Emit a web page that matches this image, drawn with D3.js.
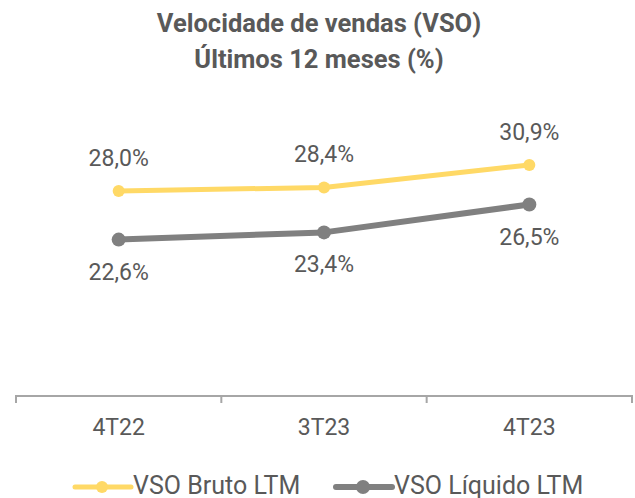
<!DOCTYPE html>
<html>
<head>
<meta charset="utf-8">
<script src="https://cdn.jsdelivr.net/npm/d3@7"></script>
<style>
  html, body { margin: 0; padding: 0; background: #ffffff; }
  svg { display: block; }
  text { font-family: Roboto, "Noto Sans", sans-serif; fill: #595959; }
</style>
</head>
<body>
<div id="chart"></div>
<script>
const categories = ["4T22", "3T23", "4T23"];
const seriesNames = ["VSO Bruto LTM", "VSO Líquido LTM"];
const bruto = [28.0, 28.4, 30.9];
const liquido = [22.6, 23.4, 26.5];
const brutoLabels = ["28,0%", "28,4%", "30,9%"];
const liquidoLabels = ["22,6%", "23,4%", "26,5%"];
const titleLines = ["Velocidade de vendas (VSO)", "Últimos 12 meses (%)"];

const W = 635, H = 498;
const colors = ["#FFD966", "#808080"];

const svg = d3.select("#chart").append("svg").attr("width", W).attr("height", H);

const x = d3.scaleBand().domain(categories).range([16, 632]).padding(0);
const y = d3.scaleLinear().domain([5, 35]).range([398, 128]);

// Title
svg.append("g").selectAll("text").data(titleLines).join("text")
  .attr("x", 319).attr("y", (d, i) => 32 + i * 36)
  .attr("text-anchor", "middle")
  .attr("font-size", 25.5).attr("font-weight", "bold")
  .text(d => d);

// Axis
const xAxis = d3.axisBottom(x).tickSize(0).tickPadding(0);
const gx = svg.append("g").attr("transform", "translate(0,396)").call(xAxis);
gx.select(".domain").remove();
gx.selectAll(".tick line").remove();
gx.selectAll(".tick text").attr("y", 39).attr("dy", 0)
  .attr("font-size", 23).attr("font-family", "Roboto").attr("fill", "#595959");
svg.append("line").attr("x1", 16).attr("x2", 632).attr("y1", 396).attr("y2", 396)
  .attr("stroke", "#A6A6A6").attr("stroke-width", 2);
const boundaries = [0, 1, 2, 3].map(i => 16 + i * x.bandwidth());
svg.append("g").selectAll("line").data(boundaries).join("line")
  .attr("x1", d => d).attr("x2", d => d).attr("y1", 395).attr("y2", 403)
  .attr("stroke", "#A6A6A6").attr("stroke-width", 2);

const cx = d => x(d) + x.bandwidth() / 2;
const line = d3.line().x(d => cx(d.c)).y(d => y(d.v));

const series = [
  { vals: bruto, labels: brutoLabels, color: colors[0], width: 5, r: 6, dy: -25 },
  { vals: liquido, labels: liquidoLabels, color: colors[1], width: 6, r: 7, dy: 40 }
];

series.forEach(s => {
  const pts = categories.map((c, i) => ({ c, v: s.vals[i], l: s.labels[i] }));
  svg.append("path").datum(pts).attr("d", line)
    .attr("fill", "none").attr("stroke", s.color).attr("stroke-width", s.width)
    .attr("stroke-linejoin", "round");
  svg.append("g").selectAll("circle").data(pts).join("circle")
    .attr("cx", d => cx(d.c)).attr("cy", d => y(d.v)).attr("r", s.r)
    .attr("fill", s.color);
  svg.append("g").selectAll("text").data(pts).join("text")
    .attr("x", d => cx(d.c)).attr("y", d => y(d.v) + s.dy)
    .attr("text-anchor", "middle").attr("font-size", 23)
    .text(d => d.l);
});

// Legend
const legend = [
  { name: seriesNames[0], color: colors[0], x0: 75, w: 5, r: 6 },
  { name: seriesNames[1], color: colors[1], x0: 336, w: 6, r: 7 }
];
const lg = svg.append("g").selectAll("g").data(legend).join("g")
  .attr("transform", d => `translate(${d.x0},487)`);
lg.append("line").attr("x1", 0).attr("x2", 56).attr("y1", 0).attr("y2", 0)
  .attr("stroke", d => d.color).attr("stroke-width", d => d.w).attr("stroke-linecap", "round");
lg.append("circle").attr("cx", 27).attr("cy", 0).attr("r", d => d.r).attr("fill", d => d.color);
lg.append("text").attr("x", 58).attr("y", 7).attr("font-size", 25).text(d => d.name);
</script>
</body>
</html>
